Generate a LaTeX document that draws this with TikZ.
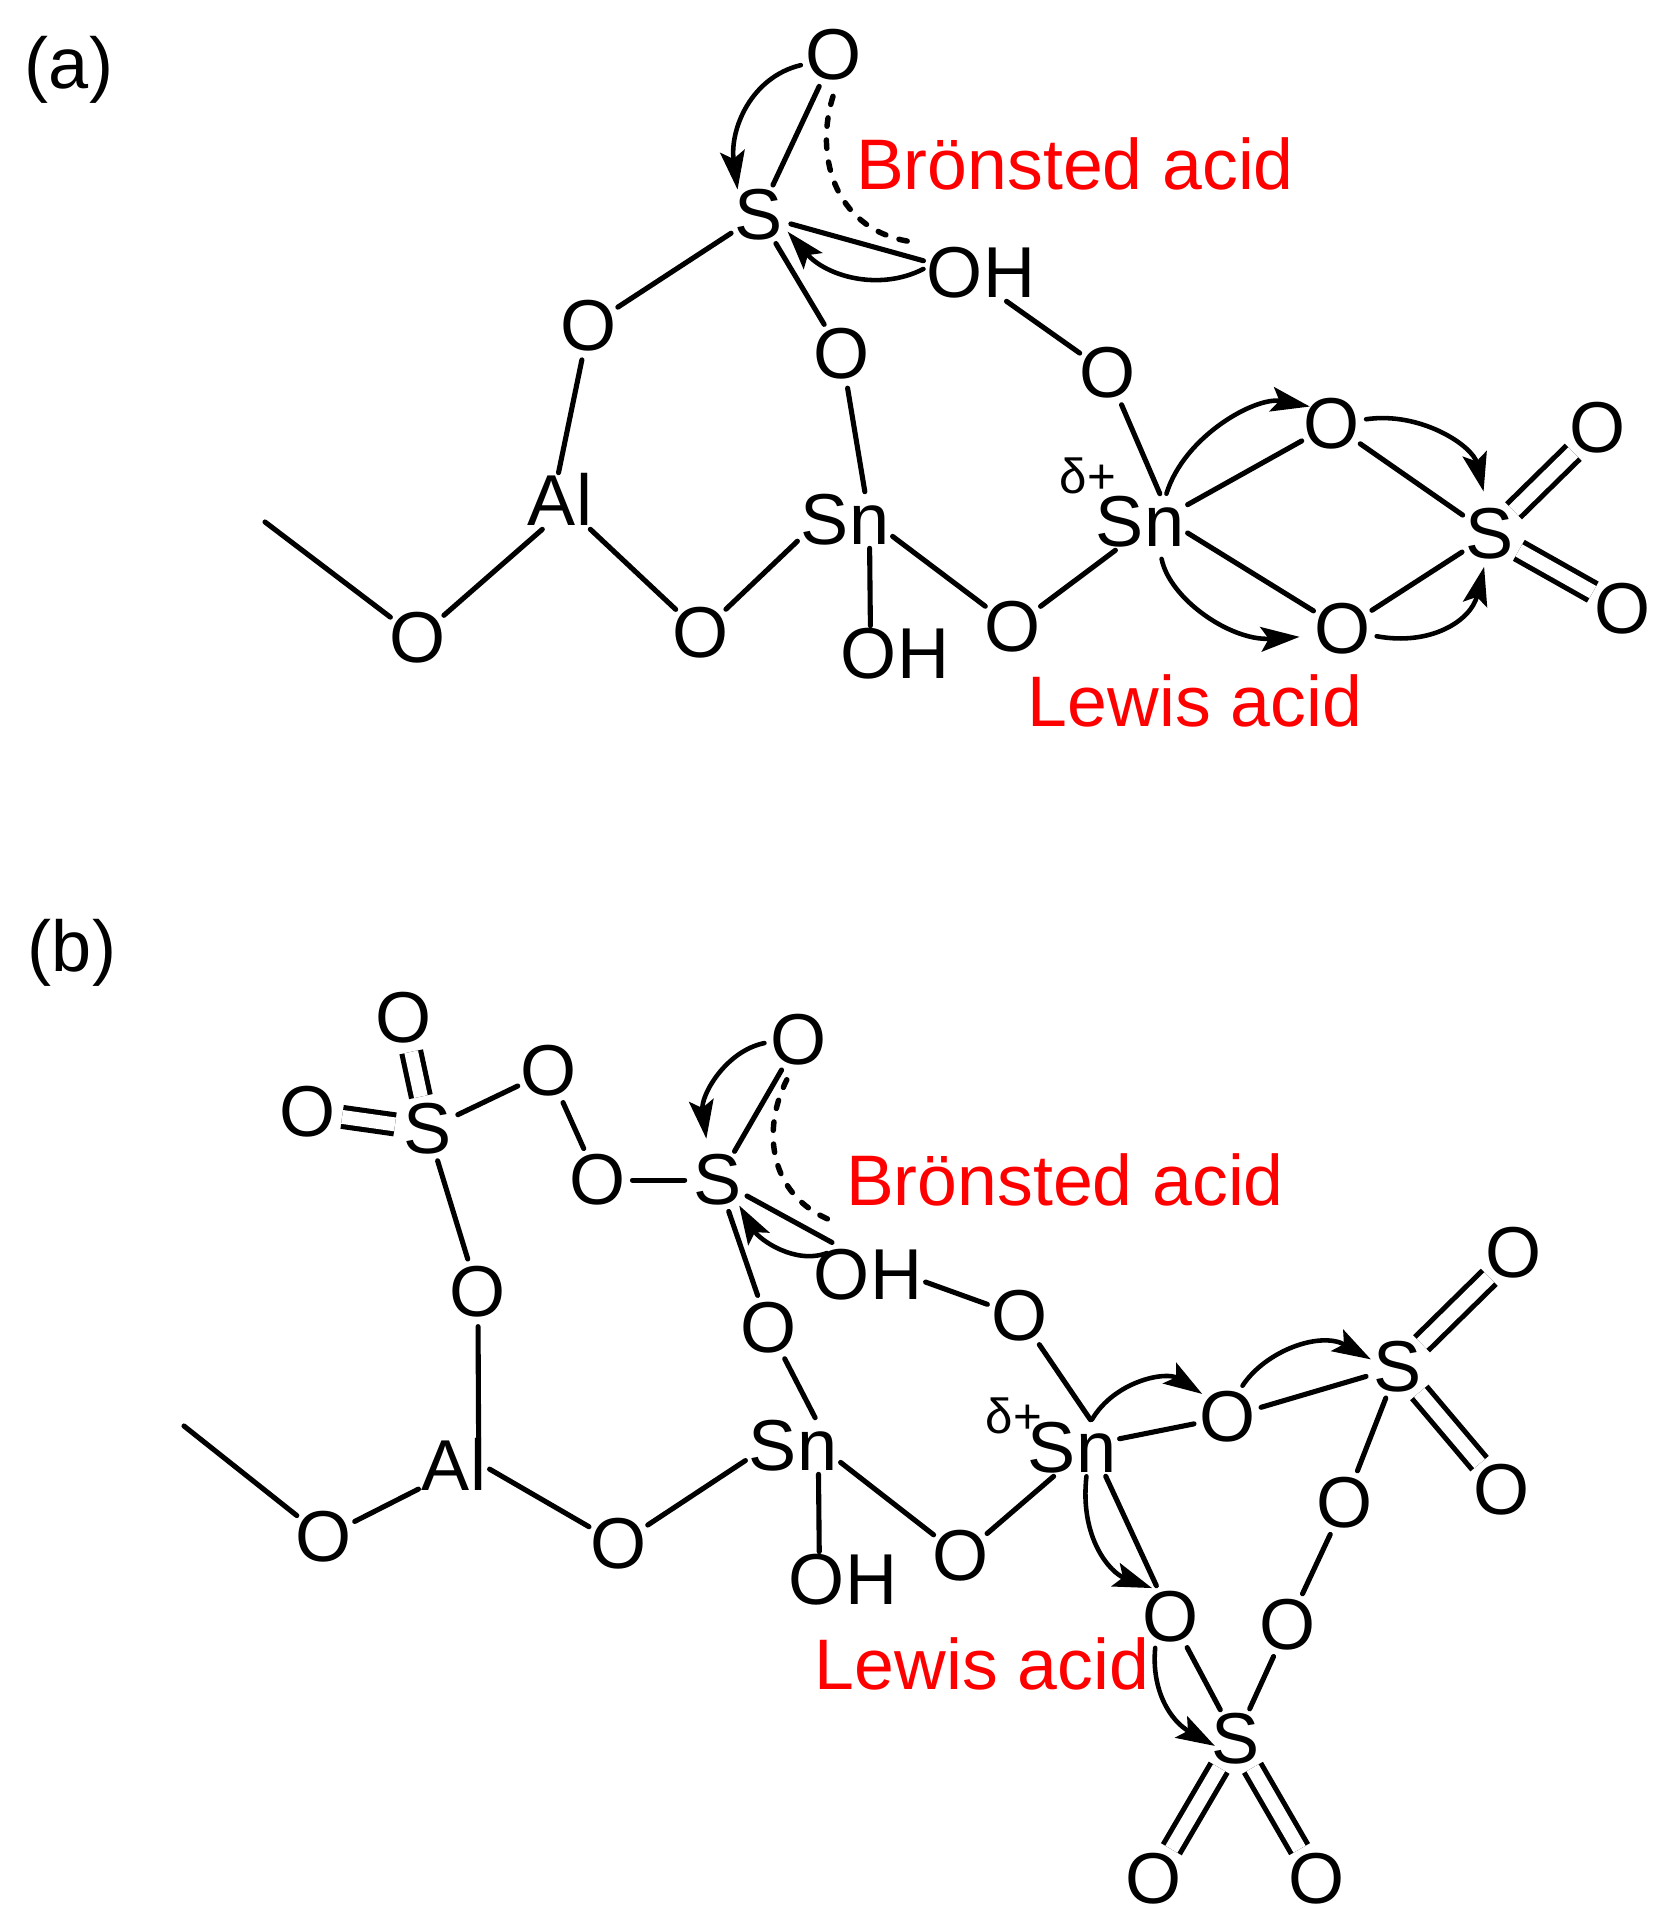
\documentclass[tikz,border=0pt]{standalone}
\usepackage{fontspec}
\setmainfont{Liberation Sans}
\usepackage{xcolor}
\usetikzlibrary{arrows.meta}
\definecolor{acidred}{RGB}{255,0,0}

\begin{document}
\begin{tikzpicture}[x=0.01cm,y=-0.01cm]
	\tikzset{
		atomnode/.style={
			shape=circle,
			minimum size=0.72cm,
			inner sep=0pt,
			outer sep=-0.8pt,
			text height=14.1pt,
			text depth=0pt,
			xshift=0.25pt,
			yshift=-0.3pt,
			font=\fontsize{20.5}{24}\selectfont
		},
		metalnode/.style={
			shape=rectangle,
			inner xsep=1pt,
			inner ysep=1pt,
			outer sep=0pt,
			text height=14.1pt,
			text depth=0pt,
			font=\fontsize{20.5}{24}\selectfont
		},
		acidlabel/.style={metalnode,text=acidred,font=\fontsize{20.35}{24}\selectfont},
		panellabel/.style={metalnode},
		deltalabel/.style={inner sep=0pt,font=\fontsize{14}{16}\selectfont},
		bondedge/.style={draw=black,line width=1.45pt,line cap=round},
		dblbond/.style={draw=black,line width=1.45pt,double,double distance=3.95pt},
		pusharrow/.style={draw=black,line width=1.3pt,line cap=round,-{Stealth[length=11pt,width=7pt,inset=2.2pt]}},
		dashbond/.style={draw=black,line width=1.55pt,line cap=round,dash pattern=on 2.4pt off 3.9pt}
	}
	\useasboundingbox (0,0) rectangle (1673,1931);
	
	\node[panellabel] (labela) at (69,64) {(a)};
	\node[acidlabel] (bronsteda) at (1075,165) {Brönsted acid};
	\node[acidlabel] (lewisa) at (1195,702) {Lewis acid};
	\node[atomnode] (oa1) at (833,54) {O};
	\node[atomnode] (sa1) at (758,214) {S};
	\node[metalnode] (oha1) at (981,273) {OH};
	\node[atomnode] (oa2) at (588,325) {O};
	\node[atomnode] (oa3) at (841,353) {O};
	\node[atomnode] (oa4) at (1107,372) {O};
	\node[metalnode] (ala) at (560,501) {Al};
	\node[metalnode] (sna1) at (845,520) {Sn};
	\node[metalnode] (sna2) at (1140,522) {Sn};
	\node[deltalabel] (deltaa) at (1088,476) {δ+};
	\node[atomnode] (oa5) at (417,637) {O};
	\node[atomnode] (oa6) at (700,632) {O};
	\node[metalnode] (oha2) at (895,654) {OH};
	\node[atomnode] (oa7) at (1012,626) {O};
	\node[atomnode] (oa8) at (1331,423) {O};
	\node[atomnode] (oa9) at (1342,628) {O};
	\node[atomnode] (sa2) at (1489,533) {S};
	\node[atomnode] (oa10) at (1597,427) {O};
	\node[atomnode] (oa11) at (1622,608) {O};
	\coordinate (enda) at (265,522);
	\coordinate (dasha) at (913,242);
	
	\draw[bondedge] (enda) -- (oa5);
	\draw[bondedge] (oa5) -- (ala.238);
	\draw[bondedge] (ala.317) -- (oa6);
	\draw[bondedge] (ala.93) -- (oa2);
	\draw[bondedge] (oa2) -- (sa1);
	\draw[bondedge] (oa6) -- (sna1.204);
	\draw[bondedge] (sna1.341) -- (oa7);
	\draw[bondedge] (sna1.311.5) -- (oha2.131.5);
	\draw[bondedge] (sna1.55) -- (oa3);
	\draw[bondedge] (oa3) -- (sa1);
	\draw[bondedge] (sa1) -- (oa1);
	\draw[bondedge] (sa1) -- (oha1.168);
	\draw[bondedge] (oha1.312) -- (oa4);
	\draw[bondedge] (oa4) -- (sna2.55);
	\draw[bondedge] (oa7) -- (sna2.229);
	\draw[bondedge] (sna2.20) -- (oa8);
	\draw[bondedge] (sna2.347) -- (oa9);
	\draw[bondedge] (oa8) -- (sa2);
	\draw[bondedge] (oa9) -- (sa2);
	\draw[dblbond] (sa2) -- (oa10);
	\draw[dblbond] (sa2) -- (oa11);
	\draw[pusharrow] (oa1.197) .. controls +(-50,12) and +(-8,-60) .. (sa1.130);
	\draw[dashbond,shorten <=2pt] (oa1.272) .. controls +(-22,71) and +(-75,-10) .. (dasha);
	\draw[pusharrow] (oha1.176) .. controls +(-45,23) and +(38,44) .. (sa1.330);
	\draw[pusharrow,shorten >=-2pt] (sna2.47) .. controls +(18,-58) and +(-47,-9) .. (oa8.147);
	\draw[pusharrow,shorten >=2.8pt] (oa8.8) .. controls +(55,-8) and +(-13,-55) .. (sa2.97);
	\draw[pusharrow,shorten <=2.5pt,shorten >=2.7pt] (sna2.305) .. controls +(10,49) and +(-78,5) .. (oa9.192);
	\draw[pusharrow] (oa9.348) .. controls +(54,10) and +(-13,54) .. (sa2.260);
	
	\node[panellabel] (labelb) at (72,947) {(b)};
	\node[acidlabel] (bronstedb) at (1065,1181) {Brönsted acid};
	\node[acidlabel] (lewisb) at (982,1665) {Lewis acid};
	\node[atomnode] (ob1) at (798,1039) {O};
	\node[atomnode] (sb1) at (717,1179) {S};
	\node[metalnode] (ohb1) at (868,1275) {OH};
	\node[atomnode] (ob2) at (597,1179) {O};
	\node[atomnode] (ob3) at (548,1070) {O};
	\node[atomnode] (sb2) at (427,1128) {S};
	\node[atomnode] (ob4) at (403,1017) {O};
	\node[atomnode] (ob5) at (307,1111) {O};
	\node[atomnode] (ob6) at (477,1291) {O};
	\node[metalnode] (alb) at (454,1466) {Al};
	\node[atomnode] (ob7) at (323,1536) {O};
	\node[atomnode] (ob8) at (618,1543) {O};
	\node[metalnode] (snb1) at (793,1446) {Sn};
	\node[metalnode] (ohb2) at (843,1580) {OH};
	\node[atomnode] (ob9) at (960,1555) {O};
	\node[atomnode] (ob10) at (768,1327) {O};
	\node[atomnode] (ob11) at (1019,1315) {O};
	\node[metalnode] (snb2) at (1072,1448) {Sn};
	\node[deltalabel] (deltab) at (1014,1416) {δ+};
	\node[atomnode] (ob12) at (1227,1416) {O};
	\node[atomnode] (sb3) at (1397,1366) {S};
	\node[atomnode] (ob13) at (1513,1252) {O};
	\node[atomnode] (ob14) at (1501,1489) {O};
	\node[atomnode] (ob15) at (1344,1502) {O};
	\node[atomnode] (ob16) at (1287,1624) {O};
	\node[atomnode] (ob17) at (1170,1616) {O};
	\node[atomnode] (sb4) at (1235,1738) {S};
	\node[atomnode] (ob18) at (1153,1878) {O};
	\node[atomnode] (ob19) at (1316,1878) {O};
	\coordinate (endb) at (184,1426);
	\coordinate (dashb) at (830,1220);
	\coordinate (startb) at (827,1253);
	
	\draw[bondedge] (endb) -- (ob7);
	\draw[bondedge] (ob7) -- (alb.213);
	\draw[bondedge] (alb.355) -- (ob8);
	\draw[bondedge] (alb.49) -- (ob6);
	\draw[bondedge] (ob6) -- (sb2);
	\draw[bondedge] (sb2) -- (ob3);
	\draw[bondedge] (ob3) -- (ob2);
	\draw[bondedge] (ob2) -- (sb1);
	\draw[dblbond] (sb2) -- (ob4);
	\draw[dblbond] (sb2) -- (ob5);
	\draw[bondedge] (ob8) -- (snb1.197);
	\draw[bondedge] (snb1.341) -- (ob9);
	\draw[bondedge] (snb1.312.5) -- (ohb2.130.5);
	\draw[bondedge] (snb1.52) -- (ob10);
	\draw[bondedge] (ob10) -- (sb1);
	\draw[bondedge] (sb1) -- (ob1);
	\draw[bondedge,shorten >=2.5pt] (sb1) -- (ohb1.135);
	\draw[bondedge] (ohb1.353) -- (ob11);
	\draw[bondedge] (ob11) -- (snb2.57);
	\draw[bondedge] (ob9) -- (snb2.237);
	\draw[bondedge] (snb2.11) -- (ob12);
	\draw[bondedge] (snb2.320) -- (ob17);
	\draw[bondedge] (ob12) -- (sb3);
	\draw[dblbond] (sb3) -- (ob13);
	\draw[dblbond] (sb3) -- (ob14);
	\draw[bondedge] (sb3) -- (ob15);
	\draw[bondedge] (ob15) -- (ob16);
	\draw[bondedge] (ob16) -- (sb4);
	\draw[bondedge] (ob17) -- (sb4);
	\draw[dblbond] (sb4) -- (ob18);
	\draw[dblbond] (sb4) -- (ob19);
	\draw[pusharrow,shorten >=2.8pt] (ob1.185) .. controls +(-39,8) and +(-7,-53) .. (sb1.108);
	\draw[dashbond,shorten <=2pt] (ob1.255) .. controls +(-29,58) and +(-60,-25) .. (dashb);
	\draw[pusharrow] (startb) .. controls +(-32,12) and +(20,34) .. (sb1.310);
	\draw[pusharrow] (snb2.55) .. controls +(23,-39) and +(-36,-23) .. (ob12.138);
	\draw[pusharrow,shorten >=-1.5pt] (ob12.65) .. controls +(23,-35) and +(-46,-26) .. (sb3.162);
	\draw[pusharrow] (snb2.297) .. controls +(-7,63) and +(-41,-15) .. (ob17.123);
	\draw[pusharrow,shorten >=-4pt] (ob17.243) .. controls +(-4,43) and +(-32,-18) .. (sb4.180);
\end{tikzpicture}
\end{document}
